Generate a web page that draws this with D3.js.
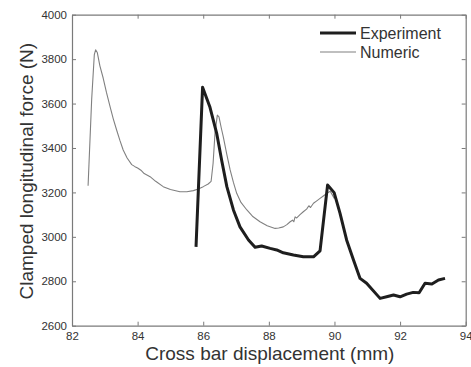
<!DOCTYPE html>
<html>
<head>
<meta charset="utf-8">
<script src="https://cdn.jsdelivr.net/npm/d3@7/dist/d3.min.js"></script>
<style>
  html, body { margin: 0; padding: 0; background: #fff; }
  svg { display: block; font-family: "Liberation Sans", Arial, Helvetica, sans-serif; }
</style>
</head>
<body>
<svg id="chart" width="471" height="367"></svg>
<script>
// Measured force vs. cross bar displacement
const experimentX = [85.78, 85.98, 86.20, 86.41, 86.56, 86.72, 86.92, 87.12, 87.38, 87.58, 87.78, 88.04, 88.24, 88.44, 88.75, 89.05, 89.36, 89.56, 89.79, 89.99, 90.17, 90.37, 90.58, 90.78, 90.98, 91.39, 91.59, 91.80, 92.00, 92.20, 92.40, 92.58, 92.76, 92.97, 93.17, 93.37];
const experimentY = [2955, 3673, 3586, 3466, 3346, 3226, 3121, 3045, 2986, 2953, 2959, 2948, 2941, 2928, 2918, 2910, 2910, 2937, 3233, 3199, 3106, 2986, 2896, 2813, 2791, 2723, 2730, 2738, 2730, 2742, 2750, 2748, 2791, 2788, 2806, 2813];

// Simulated force vs. cross bar displacement
const numericX = [82.49, 82.60, 82.68, 82.72, 82.77, 82.85, 82.95, 83.05, 83.16, 83.26, 83.36, 83.46, 83.56, 83.68, 83.82, 83.92, 84.00, 84.10, 84.20, 84.38, 84.55, 84.78, 85.00, 85.29, 85.50, 85.70, 85.85, 86.00, 86.15, 86.24, 86.30, 86.36, 86.43, 86.48, 86.55, 86.61, 86.72, 86.82, 86.92, 87.02, 87.15, 87.33, 87.50, 87.73, 87.95, 88.19, 88.30, 88.44, 88.55, 88.65, 88.72, 88.76, 88.80, 88.85, 88.95, 89.05, 89.15, 89.22, 89.27, 89.36, 89.46, 89.56, 89.66, 89.77, 89.87, 89.93, 90.00];
const numericY = [3230, 3620, 3820, 3842, 3830, 3770, 3715, 3650, 3586, 3530, 3481, 3434, 3391, 3355, 3325, 3316, 3310, 3300, 3285, 3271, 3250, 3226, 3213, 3203, 3203, 3208, 3215, 3226, 3238, 3250, 3330, 3470, 3548, 3540, 3490, 3451, 3370, 3301, 3245, 3196, 3155, 3121, 3093, 3068, 3050, 3038, 3040, 3045, 3055, 3068, 3075, 3068, 3090, 3085, 3100, 3113, 3125, 3140, 3132, 3151, 3162, 3173, 3184, 3196, 3205, 3190, 3172];

const xTicks = [82, 84, 86, 88, 90, 92, 94];
const yTicks = [2600, 2800, 3000, 3200, 3400, 3600, 3800, 4000];
const seriesNames = ["Experiment", "Numeric"];

const svg = d3.select("#chart");
const plotLeft = 72, plotRight = 465.7, plotTop = 14.7, plotBottom = 325.7;

const x = d3.scaleLinear().domain([82, 94]).range([plotLeft, plotRight]);
const y = d3.scaleLinear().domain([2600, 4000]).range([plotBottom, plotTop]);

const axisColor = "#7a7a7a";
const labelColor = "#333";

// Frame axes with inward ticks on all four sides
const tickLen = 4;
const gBottom = svg.append("g").attr("transform", `translate(0,${plotBottom})`)
  .call(d3.axisBottom(x).tickValues(xTicks).tickSizeInner(-tickLen).tickSizeOuter(0).tickPadding(6).tickFormat(d3.format("d")));
const gTop = svg.append("g").attr("transform", `translate(0,${plotTop})`)
  .call(d3.axisTop(x).tickValues(xTicks).tickSizeInner(-tickLen).tickSizeOuter(0).tickFormat(""));
const gLeft = svg.append("g").attr("transform", `translate(${plotLeft},0)`)
  .call(d3.axisLeft(y).tickValues(yTicks).tickSizeInner(-tickLen).tickSizeOuter(0).tickPadding(5).tickFormat(d3.format("d")));
const gRight = svg.append("g").attr("transform", `translate(${plotRight},0)`)
  .call(d3.axisRight(y).tickValues(yTicks).tickSizeInner(-tickLen).tickSizeOuter(0).tickFormat(""));

[gBottom, gTop, gLeft, gRight].forEach(g => {
  g.select(".domain").attr("stroke", axisColor).attr("stroke-width", 1.2);
  g.selectAll(".tick line").attr("stroke", axisColor).attr("stroke-width", 1);
  g.selectAll(".tick text").attr("fill", labelColor).style("font-size", "11.5px")
    .style("font-family", "'Liberation Sans', Arial, sans-serif");
});

// Curves
const line = d3.line().x(d => x(d[0])).y(d => y(d[1]));
const numericData = numericX.map((v, i) => [v, numericY[i]]);
const experimentData = experimentX.map((v, i) => [v, experimentY[i]]);

svg.append("path").datum(numericData)
  .attr("d", line).attr("fill", "none")
  .attr("stroke", "#808080").attr("stroke-width", 1.1).attr("stroke-linejoin", "round");

svg.append("path").datum(experimentData)
  .attr("d", line).attr("fill", "none")
  .attr("stroke", "#1e1e1e").attr("stroke-width", 3).attr("stroke-linejoin", "round");

// Axis titles
svg.append("text")
  .attr("x", (plotLeft + plotRight) / 2 + 1).attr("y", 360)
  .attr("text-anchor", "middle").attr("fill", labelColor)
  .style("font-size", "19px")
  .text("Cross bar displacement (mm)");

svg.append("text")
  .attr("transform", `translate(33,${(plotTop + plotBottom) / 2 + 1}) rotate(-90)`)
  .attr("text-anchor", "middle").attr("fill", labelColor)
  .style("font-size", "19px")
  .text("Clamped longitudinal force (N)");

// Legend
const legend = svg.append("g");
const legendStyles = [
  { stroke: "#1e1e1e", width: 3 },
  { stroke: "#808080", width: 1.1 }
];
seriesNames.forEach((name, i) => {
  const ly = 33 + i * 19;
  legend.append("line")
    .attr("x1", 320).attr("x2", 356).attr("y1", ly).attr("y2", ly)
    .attr("stroke", legendStyles[i].stroke).attr("stroke-width", legendStyles[i].width);
  legend.append("text")
    .attr("x", 360).attr("y", ly + 5.5)
    .attr("fill", labelColor).style("font-size", "16px")
    .text(name);
});
</script>
</body>
</html>
